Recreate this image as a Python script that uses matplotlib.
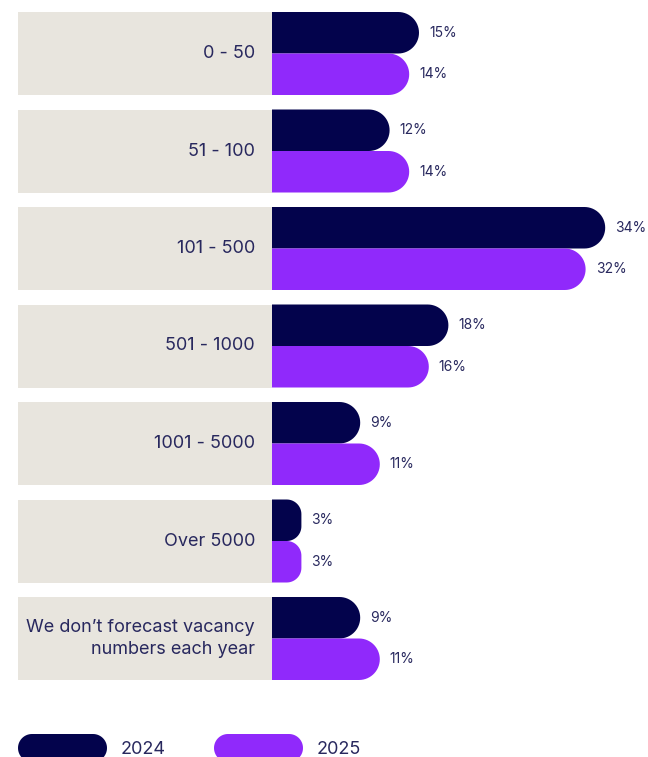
import numpy as np
import matplotlib.pyplot as plt
from matplotlib.path import Path
from matplotlib.patches import PathPatch, Rectangle

# ==============================
# DATA
# ==============================
categories = ["0 - 50", "51 - 100", "101 - 500", "501 - 1000", "1001 - 5000",
              "Over 5000", "We don’t forecast vacancy\nnumbers each year"]
vals_2024 = [15, 12, 34, 18, 9, 3, 9]
vals_2025 = [14, 14, 32, 16, 11, 3, 11]
series_names = ["2024", "2025"]

# ==============================
# STYLE
# ==============================
NAVY = "#03034C"
PURPLE = "#9029FB"
BEIGE = "#E8E5DE"
TEXT = "#28285E"
plt.rcParams["font.family"] = ["Inter", "DejaVu Sans"]

W_PX, H_PX = 648, 757
PX_PER_PCT = 9.8       # horizontal scale, pixels per percentage point
ZERO_PX = 272          # where the bars start
GROUP_PX = 97.5        # distance between groups
FIRST_PX = 53.5        # centre of the first group
BOX_LEFT_PX = 18
BAR_H = 41.5 / GROUP_PX

fig = plt.figure(figsize=(W_PX / 100, H_PX / 100), dpi=100)
ax = fig.add_axes([0, 0, 1, 1])
ax.set_xlim(-ZERO_PX / PX_PER_PCT, (W_PX - ZERO_PX) / PX_PER_PCT)
ax.set_ylim((H_PX - FIRST_PX) / GROUP_PX, -FIRST_PX / GROUP_PX)
ax.axis("off")


def rounded_bar(x0, x1, y_top, y_bot, r_px, left_round=False):
    """Bar path with a rounded right end (optionally left too), in data units."""
    w_px = (x1 - x0) * PX_PER_PCT
    h_px = (y_bot - y_top) * GROUP_PX
    r = min(r_px, w_px / 2, h_px / 2)
    rx, ry = r / PX_PER_PCT, r / GROUP_PX
    t = np.linspace(0, np.pi / 2, 16)
    pts = []
    # top-right corner
    cx, cy = x1 - rx, y_top + ry
    pts += list(zip(cx + rx * np.sin(t), cy - ry * np.cos(t)))
    # bottom-right corner
    cx, cy = x1 - rx, y_bot - ry
    pts += list(zip(cx + rx * np.cos(t), cy + ry * np.sin(t)))
    if left_round:
        cx, cy = x0 + rx, y_bot - ry
        pts += list(zip(cx - rx * np.sin(t), cy + ry * np.cos(t)))
        cx, cy = x0 + rx, y_top + ry
        pts += list(zip(cx - rx * np.cos(t), cy - ry * np.sin(t)))
    else:
        pts += [(x0, y_bot), (x0, y_top)]
    pts.append(pts[0])
    codes = [Path.MOVETO] + [Path.LINETO] * (len(pts) - 2) + [Path.CLOSEPOLY]
    return Path(pts, codes)


box_left = (BOX_LEFT_PX - ZERO_PX) / PX_PER_PCT
for i, cat in enumerate(categories):
    ax.add_patch(Rectangle((box_left, i - BAR_H), -box_left, 2 * BAR_H,
                           facecolor=BEIGE, edgecolor="none", zorder=1))
    ax.text(-17 / PX_PER_PCT, i, cat, ha="right", va="center", fontsize=13,
            color=TEXT, linespacing=1.45, zorder=3)

    for v, col, y_top in [(vals_2024[i], NAVY, i - BAR_H), (vals_2025[i], PURPLE, i)]:
        ax.add_patch(PathPatch(rounded_bar(0, v, y_top, y_top + BAR_H, 21),
                               facecolor=col, edgecolor="none", zorder=2))
        ax.text(v + 10 / PX_PER_PCT, y_top + BAR_H / 2, f"{v}%", ha="left",
                va="center", fontsize=10, color=TEXT, zorder=3)

# legend
leg_y = (748 - FIRST_PX) / GROUP_PX
leg_h = 28 / GROUP_PX
for name, col, lx in [(series_names[0], NAVY, 18), (series_names[1], PURPLE, 214)]:
    x0 = (lx - ZERO_PX) / PX_PER_PCT
    x1 = x0 + 89 / PX_PER_PCT
    ax.add_patch(PathPatch(rounded_bar(x0, x1, leg_y - leg_h / 2, leg_y + leg_h / 2, 14,
                                       left_round=True),
                           facecolor=col, edgecolor="none", clip_on=False))
    ax.text(x1 + 14 / PX_PER_PCT, leg_y + 1 / GROUP_PX, name, ha="left", va="center",
            fontsize=13, color=TEXT)

plt.savefig("out.png", dpi=100)
